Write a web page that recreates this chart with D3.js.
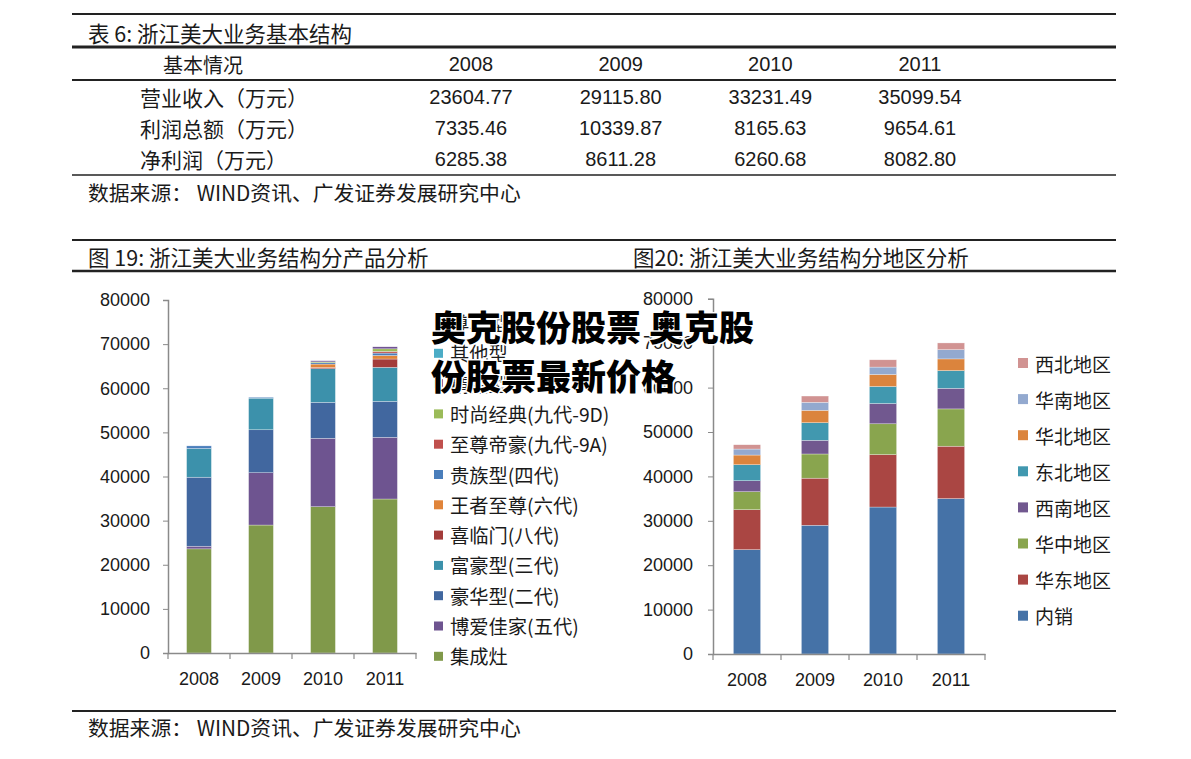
<!DOCTYPE html>
<html><head><meta charset="utf-8">
<script src="https://cdn.jsdelivr.net/npm/d3@7"></script>
<style>
html,body{margin:0;padding:0;background:#fff;}
svg{display:block;}
</style></head><body>
<svg id="c" width="1191" height="759"></svg>
<script>
// ---------- data ----------
const years = ["2008", "2009", "2010", "2011"];

// table 6
const tableTitle = "表 6: 浙江美大业务基本结构";
const tableHeadLabel = "基本情况";
const tableRowLabels = ["营业收入（万元）", "利润总额（万元）", "净利润（万元）"];
const revenue = ["23604.77", "29115.80", "33231.49", "35099.54"];
const totalProfit = ["7335.46", "10339.87", "8165.63", "9654.61"];
const netProfit = ["6285.38", "8611.28", "6260.68", "8082.80"];
const sourceText = "数据来源： WIND资讯、广发证券发展研究中心";

// figure 19: by product (stack order bottom -> top)
const productNames = ["集成灶", "博爱佳家(五代)", "豪华型(二代)", "富豪型(三代)", "喜临门(八代)",
  "王者至尊(六代)", "贵族型(四代)", "至尊帝豪(九代-9A)", "时尚经典(九代-9D)", "精品型", "其他型", "尊享型"];
const jichengzao = [23600, 29000, 33150, 34900];
const boaijiajia = [600, 11850, 15500, 13980];
const haohuaxing = [15640, 9740, 8160, 8160];
const fuhaoxing = [6500, 7160, 7620, 7700];
const xilinmen = [0, 0, 250, 1880];
const wangzhezhizun = [0, 0, 800, 800];
const guizuxing = [600, 200, 300, 550];
const zhizundihao = [0, 0, 0, 370];
const shishangjingdian = [0, 0, 200, 600];
const jingpinxing = [0, 0, 250, 450];
const qitaxing = [0, 0, 0, 0];
const zunxiangxing = [0, 0, 0, 0];
const productColors = ["#80994A", "#6E5490", "#41679F", "#3C91AB", "#A33C3A", "#E0843A",
  "#4A7EBB", "#C0504D", "#9BBB59", "#6B4E8F", "#4BACC6", "#F79646"];

// figure 20: by region (stack order bottom -> top)
const regionNames = ["内销", "华东地区", "华中地区", "西南地区", "东北地区", "华北地区", "华南地区", "西北地区"];
const neixiao = [23500, 29000, 33100, 35000];
const huadong = [9000, 10600, 11800, 11800];
const huazhong = [4050, 5450, 6950, 8400];
const xinan = [2480, 3080, 4570, 4640];
const dongbei = [3600, 3960, 3830, 3990];
const huabei = [2180, 2790, 2700, 2630];
const huanan = [1350, 1800, 1670, 2090];
const xibei = [970, 1420, 1640, 1510];
const regionColors = ["#4572A7", "#AA4643", "#89A54E", "#71588F", "#4198AF", "#DB843D", "#93A9CF", "#D19392"];

const yTicks = [0, 10000, 20000, 30000, 40000, 50000, 60000, 70000, 80000];
const fig19Title = "图 19: 浙江美大业务结构分产品分析";
const fig20Title = "图20: 浙江美大业务结构分地区分析";
const watermark = ["奥克股份股票 奥克股", "份股票最新价格"];

// ---------- drawing ----------
const CJK = "'Noto Sans CJK SC', 'Noto Sans', sans-serif";
const LAT = "'Liberation Sans', Arial, sans-serif";
const svg = d3.select("#c");
const ink = "#1a1a1a";

function hline(y, w) {
  svg.append("line").attr("x1", 72).attr("x2", 1116).attr("y1", y).attr("y2", y)
    .attr("stroke", "#222").attr("stroke-width", w);
}
function txt(x, y, s, opts = {}) {
  return svg.append("text").attr("x", x).attr("y", y).text(s)
    .attr("font-family", opts.family || CJK).attr("font-size", opts.size || 20)
    .attr("text-anchor", opts.anchor || "start").attr("dominant-baseline", "central")
    .attr("fill", ink);
}

// table
hline(14, 2);
txt(88, 32, tableTitle, {size: 21.5});
hline(47, 3);
txt(163, 64, tableHeadLabel, {size: 20});
const colX = d3.scalePoint().domain(years).range([471, 920]);
years.forEach(y => txt(colX(y), 64, y, {family: LAT, size: 20, anchor: "middle"}));
hline(80, 2);
const tableData = [revenue, totalProfit, netProfit];
const rowY = d3.scalePoint().domain(tableRowLabels).range([97, 159]);
tableRowLabels.forEach((lab, i) => {
  txt(140, rowY(lab), lab, {size: 21});
  years.forEach((y, j) => txt(colX(y), rowY(lab), tableData[i][j], {family: LAT, size: 20, anchor: "middle"}));
});
hline(175, 1.5);
txt(88, 192, sourceText, {size: 20.8});

hline(240, 2);
txt(88, 256, fig19Title, {size: 21.5});
txt(633, 256, fig20Title, {size: 21.5});
hline(271, 2.5);
hline(711, 2);
txt(88, 727, sourceText, {size: 20.8});

function stackedChart(cfg) {
  const g = svg.append("g");
  const x = d3.scaleBand().domain(years).range(cfg.xr).paddingInner(0.6).paddingOuter(0.3);
  const y = d3.scaleLinear().domain([0, 80000]).range(cfg.yr);
  const rows = years.map((yr, i) => {
    const o = {year: yr};
    cfg.names.forEach((n, k) => o[n] = cfg.series[k][i]);
    return o;
  });
  const stacked = d3.stack().keys(cfg.names)(rows);
  stacked.forEach((layer, k) => {
    g.append("g").attr("fill", cfg.colors[k])
      .selectAll("rect").data(layer).join("rect")
      .attr("x", d => x(d.data.year))
      .attr("width", x.bandwidth())
      .attr("y", d => y(d[1]))
      .attr("height", d => Math.max(0, y(d[0]) - y(d[1])))
      .attr("stroke", "#fff").attr("stroke-width", d => (d[1] - d[0]) > 0 ? 0.5 : 0)
      .attr("stroke-opacity", 0.6);
  });
  // y axis
  const ya = g.append("g").attr("transform", `translate(${cfg.xr[0]},0)`)
    .call(d3.axisLeft(y).tickValues(yTicks).tickSize(5).tickPadding(cfg.tp).tickFormat(d3.format("d")));
  ya.select(".domain").attr("stroke", "#8a8a8a").attr("stroke-width", 1.5);
  ya.selectAll(".tick line").attr("stroke", "#8a8a8a");
  ya.selectAll("text").attr("font-family", LAT).attr("font-size", 18).attr("fill", ink);
  // x axis
  const xa = g.append("g").attr("transform", `translate(0,${cfg.yr[0]})`)
    .call(d3.axisBottom(x).tickSize(0).tickPadding(19));
  xa.select(".domain").attr("stroke", "#8a8a8a").attr("stroke-width", 1.5);
  xa.selectAll("text").attr("font-family", LAT).attr("font-size", 18).attr("fill", ink);
  const step = x.step();
  g.append("g").selectAll("line").data(d3.range(years.length + 1)).join("line")
    .attr("x1", i => cfg.xr[0] + i * step).attr("x2", i => cfg.xr[0] + i * step)
    .attr("y1", cfg.yr[0]).attr("y2", cfg.yr[0] + 6)
    .attr("stroke", "#8a8a8a").attr("stroke-width", 1.2);
  // legend (reverse order: top of stack first)
  const lg = g.append("g");
  const items = cfg.names.map((n, k) => ({n, c: cfg.colors[k]})).reverse();
  items.forEach((it, i) => {
    const yy = cfg.leg.y0 + i * cfg.leg.dy;
    lg.append("rect").attr("x", cfg.leg.x).attr("y", yy - cfg.leg.sq / 2)
      .attr("width", cfg.leg.sq).attr("height", cfg.leg.sq).attr("fill", it.c);
    lg.append("text").attr("x", cfg.leg.x + cfg.leg.sq + 7).attr("y", yy).text(it.n)
      .attr("dominant-baseline", "central").attr("font-family", CJK)
      .attr("font-size", cfg.leg.fs).attr("fill", ink);
  });
}

stackedChart({
  xr: [168, 416], yr: [653, 300],
  names: productNames, colors: productColors,
  series: [jichengzao, boaijiajia, haohuaxing, fuhaoxing, xilinmen, wangzhezhizun, guizuxing,
    zhizundihao, shishangjingdian, jingpinxing, qitaxing, zunxiangxing],
  tp: 13, leg: {x: 434, y0: 323, dy: 30.3, sq: 9, fs: 19.3}
});
stackedChart({
  xr: [713, 985], yr: [654, 298.8],
  names: regionNames, colors: regionColors,
  series: [neixiao, huadong, huazhong, xinan, dongbei, huabei, huanan, xibei],
  tp: 15, leg: {x: 1018, y0: 363, dy: 36.1, sq: 10, fs: 19}
});

// watermark overlay
watermark.forEach((s, i) => {
  svg.append("text").attr("x", 431).attr("y", 341 + i * 49).text(s)
    .attr("font-family", CJK).attr("font-weight", 900).attr("font-size", 35)
    .attr("fill", "#000").attr("stroke", "#fff").attr("stroke-width", 3)
    .attr("paint-order", "stroke").attr("stroke-linejoin", "round");
});
</script>
</body></html>
